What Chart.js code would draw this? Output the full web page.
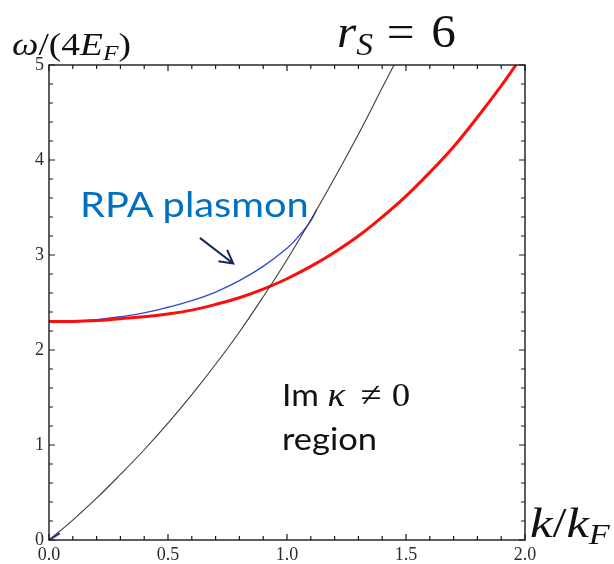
<!DOCTYPE html>
<html>
<head>
<meta charset="utf-8">
<script src="https://cdn.jsdelivr.net/npm/chart.js@4.4.1/dist/chart.umd.min.js"></script>
<style>
    body { margin: 0; background: #fff; }
    #wrap { position: relative; width: 614px; height: 564px; }
    #plot { position: absolute; left: 0; top: 0; }
    .lbl { position: absolute; white-space: nowrap; line-height: 1; transform-origin: 0 0; }
    .math { font-family: "Liberation Serif", serif; color: #111; }
    .note { font-family: Lato, "Open Sans", sans-serif; }
    sub { font-size: 0.68em; vertical-align: -0.25em; line-height: 0; }
    .eq { display: inline-block; margin: 0 16px 0 13px; }
</style>
</head>
<body>
<div id="wrap">
    <canvas id="plot" width="614" height="564"></canvas>
    <div class="lbl math" style="left:12px; top:28px; font-size:32px; transform:scaleX(1.17);"><i>ω</i>/(4<i>E</i><sub><i>F</i></sub>)</div>
    <div class="lbl math" style="left:337px; top:8px; font-size:47px; transform:scaleX(1.05);"><i>r</i><sub><i>S</i></sub><span class="eq">=</span>6</div>
    <div class="lbl math" style="left:530px; top:502px; font-size:42px; transform:scaleX(1.2);"><i>k</i>/<i>k</i><sub><i>F</i></sub></div>
    <div class="lbl note" style="left:80px; top:187px; font-size:34px; color:#0070c0; transform:scaleX(1.17);">RPA plasmon</div>
    <div class="lbl note" style="left:282px; top:378px; font-size:30px; color:#111; transform:scaleX(1.12);">Im <i class="math" style="font-size:33px;">κ</i><span class="math" style="font-size:34px; margin:0 9px 0 14px;">≠</span><span class="math" style="font-size:33px;">0</span></div>
    <div class="lbl note" style="left:282px; top:423px; font-size:30px; color:#111; transform:scaleX(1.15);">region</div>
</div>
<script>
// upper edge of the particle-hole continuum (black)
const kBlack = [0, 0.1, 0.2, 0.3, 0.4, 0.5, 0.6, 0.7, 0.8, 0.9, 1.0, 1.1, 1.2, 1.3, 1.4, 1.47];
const wBlack = [0, 0.21, 0.44, 0.69, 0.95, 1.23, 1.53, 1.85, 2.19, 2.56, 2.95, 3.37, 3.81, 4.27, 4.76, 5.1];

// red curve
const kRed = [0, 0.1, 0.2, 0.3, 0.4, 0.5, 0.6, 0.7, 0.8, 0.9, 1.0, 1.1, 1.2, 1.3, 1.4, 1.5, 1.6, 1.7, 1.8, 1.9, 1.97];
const wRed = [2.30, 2.30, 2.31, 2.33, 2.35, 2.38, 2.42, 2.48, 2.55, 2.64, 2.75, 2.88, 3.03, 3.20, 3.40, 3.62, 3.87, 4.14, 4.45, 4.78, 5.03];

// RPA plasmon (blue)
const kBlue = [0, 0.1, 0.2, 0.3, 0.4, 0.5, 0.6, 0.7, 0.8, 0.9, 1.0, 1.05, 1.1, 1.125];
const wBlue = [2.30, 2.30, 2.32, 2.35, 2.39, 2.45, 2.52, 2.61, 2.73, 2.88, 3.07, 3.20, 3.36, 3.48];

// short blue stub at the origin
const kStub = [0, 0.045];
const wStub = [0, 0.07];

const xTickLabels = ['0.0', '0.5', '1.0', '1.5', '2.0'];

function toPoints(xs, ys) {
    return xs.map((x, i) => ({ x: x, y: ys[i] }));
}

// frame with inward ticks on all four sides, plus the annotation arrow
const framePlugin = {
    id: 'frame',
    afterDatasetsDraw(chart) {
        const { ctx, chartArea: a, scales } = chart;
        const xs = scales.x, ys = scales.y;
        ctx.save();
        ctx.strokeStyle = '#1a1a1a';
        ctx.lineWidth = 1.4;
        ctx.strokeRect(a.left, a.top, a.right - a.left, a.bottom - a.top);

        ctx.lineWidth = 1.2;
        ctx.beginPath();
        for (let i = 0; i <= 20; i++) {
            const px = xs.getPixelForValue(i / 10);
            const len = i % 5 === 0 ? 6 : 4;
            ctx.moveTo(px, a.bottom); ctx.lineTo(px, a.bottom - len);
            ctx.moveTo(px, a.top); ctx.lineTo(px, a.top + len);
        }
        for (let i = 0; i <= 25; i++) {
            const py = ys.getPixelForValue(i / 5);
            const len = i % 5 === 0 ? 6 : 4;
            ctx.moveTo(a.left, py); ctx.lineTo(a.left + len, py);
            ctx.moveTo(a.right, py); ctx.lineTo(a.right - len, py);
        }
        ctx.stroke();

        // arrow pointing at the plasmon branch
        const x0 = xs.getPixelForValue(0.634), y0 = ys.getPixelForValue(3.18);
        const x1 = xs.getPixelForValue(0.774), y1 = ys.getPixelForValue(2.91);
        const ang = Math.atan2(y1 - y0, x1 - x0);
        ctx.strokeStyle = '#14285a';
        ctx.lineWidth = 2;
        ctx.beginPath();
        ctx.moveTo(x0, y0); ctx.lineTo(x1, y1);
        ctx.moveTo(x1 - 15 * Math.cos(ang - 0.5), y1 - 15 * Math.sin(ang - 0.5));
        ctx.lineTo(x1, y1);
        ctx.lineTo(x1 - 15 * Math.cos(ang + 0.5), y1 - 15 * Math.sin(ang + 0.5));
        ctx.stroke();
        ctx.restore();
    }
};

const tickFont = { family: '"Liberation Serif", serif', size: 18 };

new Chart(document.getElementById('plot').getContext('2d'), {
    type: 'line',
    data: {
        datasets: [
            {
                data: toPoints(kBlack, wBlack),
                borderColor: '#3c3c3c',
                borderWidth: 1.1,
                tension: 0.4,
                pointRadius: 0,
                fill: false
            },
            {
                data: toPoints(kRed, wRed),
                borderColor: '#ff0d0d',
                borderWidth: 3,
                tension: 0.4,
                pointRadius: 0,
                fill: false
            },
            {
                data: toPoints(kBlue, wBlue),
                borderColor: '#3346d2',
                borderWidth: 1.3,
                tension: 0.4,
                pointRadius: 0,
                fill: false
            },
            {
                data: toPoints(kStub, wStub),
                borderColor: '#2233aa',
                borderWidth: 2,
                pointRadius: 0,
                fill: false
            }
        ]
    },
    options: {
        responsive: false,
        animation: false,
        maintainAspectRatio: false,
        layout: { padding: { top: 65, right: 89, left: 0, bottom: 0 } },
        plugins: {
            legend: { display: false },
            tooltip: { enabled: false }
        },
        scales: {
            x: {
                type: 'linear',
                min: 0,
                max: 2,
                afterFit: (s) => { s.height = 24; },
                grid: { display: false, drawTicks: false },
                border: { display: false },
                ticks: {
                    stepSize: 0.5,
                    padding: 4,
                    color: '#2b2b2b',
                    font: tickFont,
                    maxRotation: 0,
                    callback: (v) => xTickLabels[Math.round(v * 2)]
                }
            },
            y: {
                type: 'linear',
                min: 0,
                max: 5,
                afterFit: (s) => { s.width = 49; },
                grid: { display: false, drawTicks: false },
                border: { display: false },
                ticks: {
                    stepSize: 1,
                    padding: 5,
                    color: '#2b2b2b',
                    font: tickFont
                }
            }
        }
    },
    plugins: [framePlugin]
});
</script>
</body>
</html>
